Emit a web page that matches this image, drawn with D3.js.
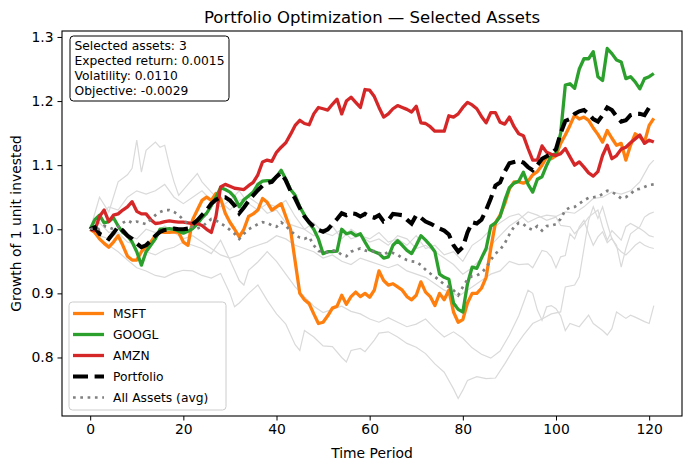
<!DOCTYPE html>
<html>
<head>
<meta charset="utf-8">
<script src="https://cdn.jsdelivr.net/npm/d3@7"></script>
<style>
  body { margin: 0; background: #fff; }
  svg text { font-family: "DejaVu Sans", sans-serif; }
</style>
</head>
<body>
<div id="chart"></div>
<script>
// chart data
const xTicks = [0, 20, 40, 60, 80, 100, 120];
const yTicks = [0.8, 0.9, 1.0, 1.1, 1.2, 1.3];
const selectedNames = ["MSFT", "GOOGL", "AMZN"];
const selectedColors = ["#ff7f0e", "#2ca02c", "#d62728"];
const infoLines = ["Selected assets: 3", "Expected return: 0.0015", "Volatility: 0.0110", "Objective: -0.0029"];

const msft = [1.0,0.995,0.985,0.978,0.972,0.98,0.99,0.975,0.958,0.952,
 0.952,0.965,0.973,0.98,0.99,0.996,0.995,0.995,0.996,0.995,
 0.98,0.975,1.015,1.03,1.045,1.05,1.045,1.056,1.048,1.025,
 1.011,1.0,0.988,1.0,1.02,1.024,1.03,1.048,1.042,1.03,
 1.035,1.04,1.02,1.0,0.95,0.9,0.89,0.884,0.868,0.853,
 0.855,0.865,0.877,0.88,0.897,0.883,0.895,0.902,0.895,0.9,
 0.894,0.905,0.935,0.92,0.913,0.915,0.91,0.905,0.895,0.89,
 0.897,0.918,0.902,0.895,0.881,0.9,0.89,0.905,0.871,0.855,
 0.859,0.885,0.9,0.9,0.908,0.925,0.97,1.01,1.022,1.04,
 1.063,1.074,1.074,1.072,1.075,1.085,1.09,1.1,1.113,1.11,
 1.115,1.134,1.147,1.162,1.178,1.172,1.175,1.17,1.158,1.148,
 1.136,1.154,1.142,1.131,1.134,1.108,1.131,1.149,1.144,1.136,
 1.162,1.173];

const googl = [1.0,1.015,1.022,1.01,1.012,1.018,1.005,0.995,0.99,0.98,
 0.965,0.944,0.965,0.975,0.985,1.0,1.0,1.001,1.0,0.997,
 0.994,0.997,1.001,1.008,1.018,1.025,1.037,1.05,1.065,1.062,
 1.058,1.05,1.035,1.046,1.052,1.058,1.07,1.075,1.076,1.076,
 1.082,1.092,1.078,1.062,1.053,1.035,1.022,1.01,1.0,0.985,
 0.962,0.965,0.965,0.966,1.0,0.993,0.995,0.99,0.993,0.98,
 0.968,0.965,0.962,0.955,0.957,0.975,0.982,0.975,0.967,0.962,
 0.975,0.99,0.983,0.975,0.965,0.93,0.925,0.922,0.885,0.875,
 0.871,0.915,0.941,0.939,0.955,0.97,1.005,1.01,1.02,1.045,
 1.065,1.072,1.075,1.089,1.07,1.058,1.078,1.082,1.1,1.115,
 1.118,1.15,1.225,1.227,1.22,1.25,1.266,1.266,1.277,1.238,
 1.232,1.282,1.274,1.264,1.261,1.235,1.238,1.23,1.219,1.235,
 1.238,1.243];

const amzn = [1.0,0.998,1.02,1.03,1.012,1.022,1.024,1.03,1.035,1.043,
 1.028,1.024,1.024,1.015,1.009,1.01,1.012,1.013,1.012,1.011,
 1.011,1.01,1.009,1.009,1.006,1.0,0.995,1.02,1.066,1.07,
 1.067,1.064,1.063,1.062,1.068,1.073,1.085,1.105,1.108,1.106,
 1.12,1.128,1.135,1.148,1.162,1.17,1.165,1.163,1.18,1.19,
 1.188,1.186,1.195,1.203,1.18,1.2,1.206,1.198,1.19,1.218,
 1.217,1.207,1.19,1.175,1.18,1.188,1.193,1.19,1.187,1.183,
 1.192,1.166,1.165,1.16,1.153,1.153,1.153,1.177,1.175,1.18,
 1.19,1.198,1.194,1.188,1.176,1.166,1.182,1.182,1.167,1.164,
 1.175,1.16,1.149,1.146,1.126,1.108,1.108,1.13,1.12,1.117,
 1.115,1.118,1.126,1.113,1.1,1.105,1.097,1.088,1.083,1.09,
 1.115,1.131,1.11,1.115,1.125,1.128,1.135,1.141,1.147,1.134,
 1.139,1.136];

const portfolio = [1.0,1.003,0.993,0.99,0.985,0.994,1.004,0.998,0.99,0.985,
 0.978,0.972,0.975,0.982,0.99,0.996,0.999,1.0,1.001,1.0,
 1.0,1.001,1.008,1.014,1.022,1.03,1.04,1.046,1.05,1.05,
 1.045,1.037,1.025,1.034,1.044,1.053,1.061,1.068,1.072,1.074,
 1.082,1.088,1.076,1.06,1.048,1.033,1.02,1.011,1.004,0.999,
 0.996,1.0,1.008,1.016,1.025,1.022,1.025,1.024,1.02,1.024,
 1.02,1.018,1.022,1.012,1.014,1.024,1.023,1.022,1.015,1.009,
 1.022,1.018,1.012,1.009,1.005,1.001,0.998,0.992,0.975,0.965,
 0.972,0.995,1.011,1.009,1.015,1.03,1.048,1.068,1.073,1.09,
 1.103,1.105,1.107,1.104,1.097,1.092,1.1,1.11,1.114,1.118,
 1.125,1.15,1.169,1.172,1.18,1.184,1.186,1.18,1.172,1.168,
 1.178,1.19,1.186,1.176,1.168,1.17,1.178,1.18,1.18,1.178,
 1.19,1.193];

const allAvg = [1.0,1.002,1.0,1.005,1.003,1.0,1.004,1.01,1.014,1.01,
 1.012,1.01,1.008,1.015,1.022,1.027,1.03,1.03,1.027,1.022,
 1.015,1.008,1.003,1.001,1.004,1.01,1.016,1.014,1.009,1.005,
 0.999,0.993,0.985,0.993,1.0,1.004,1.008,1.011,1.01,1.006,
 1.004,1.011,1.005,0.998,0.991,0.987,0.985,0.988,0.975,0.966,
 0.965,0.964,0.967,0.966,0.96,0.958,0.965,0.968,0.97,0.967,
 0.965,0.966,0.963,0.96,0.965,0.963,0.96,0.955,0.952,0.95,
 0.949,0.944,0.937,0.931,0.926,0.92,0.914,0.91,0.905,0.897,
 0.91,0.922,0.927,0.928,0.932,0.94,0.952,0.962,0.968,0.978,
 0.992,1.004,1.01,1.008,1.002,0.999,1.005,0.998,1.005,1.006,
 1.008,1.016,1.03,1.034,1.035,1.04,1.045,1.049,1.05,1.051,
 1.055,1.06,1.058,1.054,1.048,1.05,1.055,1.062,1.063,1.066,
 1.069,1.07];

// other (unselected) assets, [period, value] where read
const grayA = [[0,1.0],[2,1.05],[4,1.027],[6,1.074],[8,1.085],[9,1.095],[10,1.139],[11,1.089],[12,1.123],[14,1.136],[15,1.128],[16,1.131],[17,1.1],[18,1.074],[19,1.053],[21,1.07],[23,1.087],[24,1.074],[26,1.058],[28,1.043],[30,1.03],[32,1.045],[34,1.05],[36,1.04],[38,1.025],[40,1.03],[42,1.01],[44,1.005],[46,1.0],[48,0.99],[50,1.0],[52,1.005],[54,0.985],[56,1.0],[58,0.99],[60,0.985],[62,0.995],[64,0.98],[66,0.985],[68,0.975],[70,0.99],[72,0.97],[74,0.975],[76,0.96],[78,0.965],[80,0.95],[82,0.975],[84,0.985],[86,1.0],[88,1.01],[90,1.02],[92,1.024],[94,1.011],[96,1.018],[98,1.022],[100,1.02],[102,1.027],[104,1.025],[106,1.035],[108,1.048],[110,1.05],[112,1.058],[114,1.055],[116,1.06],[118,1.074],[120,1.1],[121,1.108]];
const grayB = [[0,1.0],[2,0.985],[4,0.975],[6,0.965],[8,0.952],[10,0.94],[12,0.935],[14,0.928],[16,0.925],[18,0.932],[20,0.936],[22,0.935],[24,0.928],[26,0.924],[28,0.931],[30,0.9],[31,0.879],[32,0.885],[34,0.9],[36,0.913],[38,0.889],[40,0.868],[42,0.852],[44,0.82],[45,0.811],[46,0.842],[48,0.832],[50,0.818],[52,0.817],[54,0.8],[55,0.793],[56,0.811],[58,0.814],[59,0.809],[61,0.827],[62,0.838],[64,0.84],[66,0.832],[68,0.822],[70,0.816],[72,0.806],[74,0.79],[76,0.777],[78,0.751],[79,0.736],[80,0.749],[81,0.764],[83,0.77],[85,0.767],[87,0.768],[89,0.79],[91,0.814],[93,0.835],[95,0.853],[97,0.86],[99,0.868],[101,0.871],[102,0.91],[104,0.913],[105,0.926],[106,0.97],[107,1.014],[108,1.035],[109,1.017],[110,1.035],[111,1.009],[112,0.985],[113,0.975],[114,0.941],[115,0.97],[116,0.993],[118,1.004],[119,1.019],[120,1.024],[121,1.027]];
const grayC = [[0,1.0],[2,0.99],[4,0.985],[6,0.995],[8,0.98],[10,0.975],[12,0.965],[14,0.96],[16,0.968],[18,0.972],[20,0.98],[22,0.975],[24,0.97],[26,0.962],[28,0.983],[30,0.952],[32,0.92],[33,0.913],[34,0.936],[36,0.949],[38,0.965],[40,0.95],[42,0.93],[44,0.91],[46,0.895],[48,0.88],[50,0.87],[52,0.875],[54,0.88],[56,0.872],[58,0.868],[60,0.86],[62,0.855],[64,0.862],[66,0.855],[68,0.848],[70,0.852],[72,0.86],[74,0.845],[76,0.832],[78,0.84],[80,0.83],[82,0.815],[84,0.805],[86,0.799],[88,0.81],[90,0.835],[92,0.865],[93,0.885],[94,0.905],[95,0.9],[96,0.874],[97,0.858],[98,0.879],[99,0.881],[100,0.876],[101,0.865],[102,0.842],[103,0.853],[105,0.848],[107,0.866],[108,0.853],[110,0.842],[111,0.835],[112,0.845],[113,0.871],[115,0.861],[116,0.866],[117,0.863],[119,0.856],[120,0.853],[121,0.881]];
const grayD = [[0,1.0],[2,1.02],[4,1.035],[6,1.03],[8,1.05],[10,1.06],[12,1.055],[14,1.06],[16,1.07],[18,1.05],[20,1.04],[22,1.05],[24,1.06],[26,1.045],[28,1.035],[30,1.045],[32,1.06],[34,1.04],[36,1.03],[38,1.04],[40,1.035],[42,1.045],[44,1.02],[46,1.0],[48,1.01],[50,0.995],[52,0.99],[54,1.0],[56,0.985],[58,0.99],[60,0.98],[62,0.985],[64,0.975],[66,0.99],[68,0.985],[70,0.97],[72,0.975],[74,0.965],[76,0.955],[78,0.945],[80,0.93],[82,0.94],[84,0.955],[86,0.975],[88,0.99],[90,1.005],[92,1.015],[94,1.027],[96,1.022],[98,1.014],[100,1.019],[101,1.006],[103,1.004],[104,0.993],[106,1.009],[107,1.019],[109,1.03],[110,1.004],[111,0.983],[112,0.998],[114,0.983],[115,1.004],[116,1.009],[118,1.001],[119,0.996],[120,0.99],[121,0.988]];
const grayE = [[0,1.0],[2,1.01],[4,0.995],[6,1.0],[8,0.99],[10,0.985],[12,1.0],[14,0.995],[16,1.005],[18,0.995],[20,0.985],[22,0.99],[24,0.98],[26,0.97],[28,0.96],[30,0.955],[32,0.96],[34,0.97],[36,0.975],[38,0.98],[40,0.99],[42,0.985],[44,0.975],[46,0.97],[48,0.965],[50,0.955],[52,0.96],[54,0.95],[56,0.945],[58,0.955],[60,0.95],[62,0.945],[64,0.94],[66,0.945],[68,0.935],[70,0.93],[72,0.925],[74,0.915],[76,0.905],[78,0.9],[79,0.895],[80,0.9],[82,0.91],[84,0.92],[86,0.93],[88,0.935],[90,0.95],[92,0.945],[94,0.946],[95,0.94],[97,0.967],[98,0.965],[99,0.957],[100,0.94],[101,0.957],[102,0.959],[103,0.993],[104,0.985],[105,1.004],[106,1.014],[107,0.993],[108,0.975],[109,0.988],[110,0.996],[111,0.979],[112,0.986],[113,0.972],[114,0.965],[115,0.96],[116,0.967],[117,0.975],[118,0.98],[119,0.975],[120,0.972],[121,0.97]];

let width = 691, height = 470;
let margin = {top: 31, right: 9, bottom: 54, left: 62};
let plotW = width - margin.left - margin.right,
    plotH = height - margin.top - margin.bottom;

const selectedSeries = [msft, googl, amzn];
const grayLines = [grayA, grayB, grayC, grayD, grayE];

// styles
let selWidth = 3.3,
    portWidth = 4.1, portDash = "15,6.6",
    avgWidth = 2.7, avgDash = "2.7,4.6";

// domains with matplotlib-like 5% margins
let nPts = msft.length;
let xPad = (nPts - 1) * 0.05;
let allVals = [].concat(msft, googl, amzn, portfolio, allAvg, ...grayLines.map(g => g.map(p => p[1])));
let yMin = d3.min(allVals), yMax = d3.max(allVals);
let yPad = (yMax - yMin) * 0.05;

let x = d3.scaleLinear().domain([-xPad, nPts - 1 + xPad]).range([0, plotW]);
let y = d3.scaleLinear().domain([yMin - yPad, yMax + yPad]).range([plotH, 0]);

let svg = d3.select("#chart").append("svg")
    .attr("width", width)
    .attr("height", height);

svg.append("rect").attr("width", width).attr("height", height).attr("fill", "#fff");

svg.append("text")
    .attr("x", margin.left + plotW / 2)
    .attr("y", 23)
    .attr("text-anchor", "middle")
    .attr("font-size", 16.5)
    .text("Portfolio Optimization \u2014 Selected Assets");

let g = svg.append("g").attr("transform", "translate(" + margin.left + "," + margin.top + ")");

svg.append("defs").append("clipPath").attr("id", "clip")
  .append("rect").attr("width", plotW).attr("height", plotH);

let plot = g.append("g").attr("clip-path", "url(#clip)");

let seriesLine = d3.line().x((d, i) => x(i)).y(d => y(d));
let pairLine = d3.line().x(d => x(d[0])).y(d => y(d[1]));

// background assets
plot.selectAll(".bg")
    .data(grayLines)
    .enter().append("path")
    .attr("class", "bg")
    .attr("d", pairLine)
    .attr("fill", "none")
    .attr("stroke", "#dadada")
    .attr("stroke-width", 1.2);

plot.selectAll(".sel")
    .data(selectedSeries)
    .enter().append("path")
    .attr("class", "sel")
    .attr("d", seriesLine)
    .attr("fill", "none")
    .attr("stroke", (d, i) => selectedColors[i])
    .attr("stroke-width", selWidth)
    .attr("stroke-linejoin", "round");

plot.append("path")
    .datum(portfolio)
    .attr("d", seriesLine)
    .attr("fill", "none")
    .attr("stroke", "#000")
    .attr("stroke-width", portWidth)
    .attr("stroke-dasharray", portDash);

plot.append("path")
    .datum(allAvg)
    .attr("d", seriesLine)
    .attr("fill", "none")
    .attr("stroke", "#808080")
    .attr("stroke-width", avgWidth)
    .attr("stroke-dasharray", avgDash);

// axes
let xAxis = g.append("g")
    .attr("transform", "translate(0," + plotH + ")")
    .call(d3.axisBottom(x).tickValues(xTicks).tickSize(4.5).tickPadding(4));
let yAxis = g.append("g")
    .call(d3.axisLeft(y).tickValues(yTicks).tickFormat(d3.format(".1f")).tickSize(4.5).tickPadding(4));

[xAxis, yAxis].forEach(function(a){
    a.select(".domain").remove();
    a.selectAll("text").attr("font-size", 13.9).attr("font-family", "DejaVu Sans").attr("fill", "#000");
    a.selectAll("line").attr("stroke", "#000").attr("stroke-width", 1);
});

g.append("rect")
    .attr("width", plotW).attr("height", plotH)
    .attr("fill", "none").attr("stroke", "#000").attr("stroke-width", 1.1);

svg.append("text")
    .attr("x", margin.left + plotW / 2)
    .attr("y", 458)
    .attr("text-anchor", "middle")
    .attr("font-size", 13.9)
    .text("Time Period");

svg.append("text")
    .attr("transform", "translate(21," + (margin.top + plotH / 2) + ") rotate(-90)")
    .attr("text-anchor", "middle")
    .attr("font-size", 13.9)
    .text("Growth of 1 unit invested");

// info box
let info = svg.append("g").attr("transform", "translate(70,36)");
info.append("rect")
    .attr("width", 159).attr("height", 65).attr("rx", 3.5)
    .attr("fill", "#fff").attr("stroke", "#000").attr("stroke-width", 1);
info.selectAll("text")
    .data(infoLines)
    .enter().append("text")
    .attr("x", 4.5)
    .attr("y", (d, i) => 14 + i * 15)
    .attr("font-size", 12.3)
    .text(d => d);

// legend
let legendItems = selectedNames.map((n, i) => ({label: n, color: selectedColors[i], w: selWidth, dash: null}));
legendItems.push({label: "Portfolio", color: "#000", w: portWidth, dash: portDash});
legendItems.push({label: "All Assets (avg)", color: "#808080", w: avgWidth, dash: avgDash});

let legend = svg.append("g").attr("transform", "translate(69,302)");
legend.append("rect")
    .attr("width", 157).attr("height", 108).attr("rx", 3.5)
    .attr("fill", "#fff").attr("fill-opacity", 0.8)
    .attr("stroke", "#ccc").attr("stroke-width", 1);

let rows = legend.selectAll(".lg")
    .data(legendItems)
    .enter().append("g")
    .attr("class", "lg")
    .attr("transform", (d, i) => "translate(0," + (11.5 + i * 21) + ")");
rows.append("line")
    .attr("x1", 4).attr("x2", 35)
    .attr("stroke", d => d.color)
    .attr("stroke-width", d => d.w)
    .attr("stroke-dasharray", d => d.dash);
rows.append("text")
    .attr("x", 44)
    .attr("dy", "0.35em")
    .attr("font-size", 12.3)
    .text(d => d.label);
</script>
</body>
</html>
